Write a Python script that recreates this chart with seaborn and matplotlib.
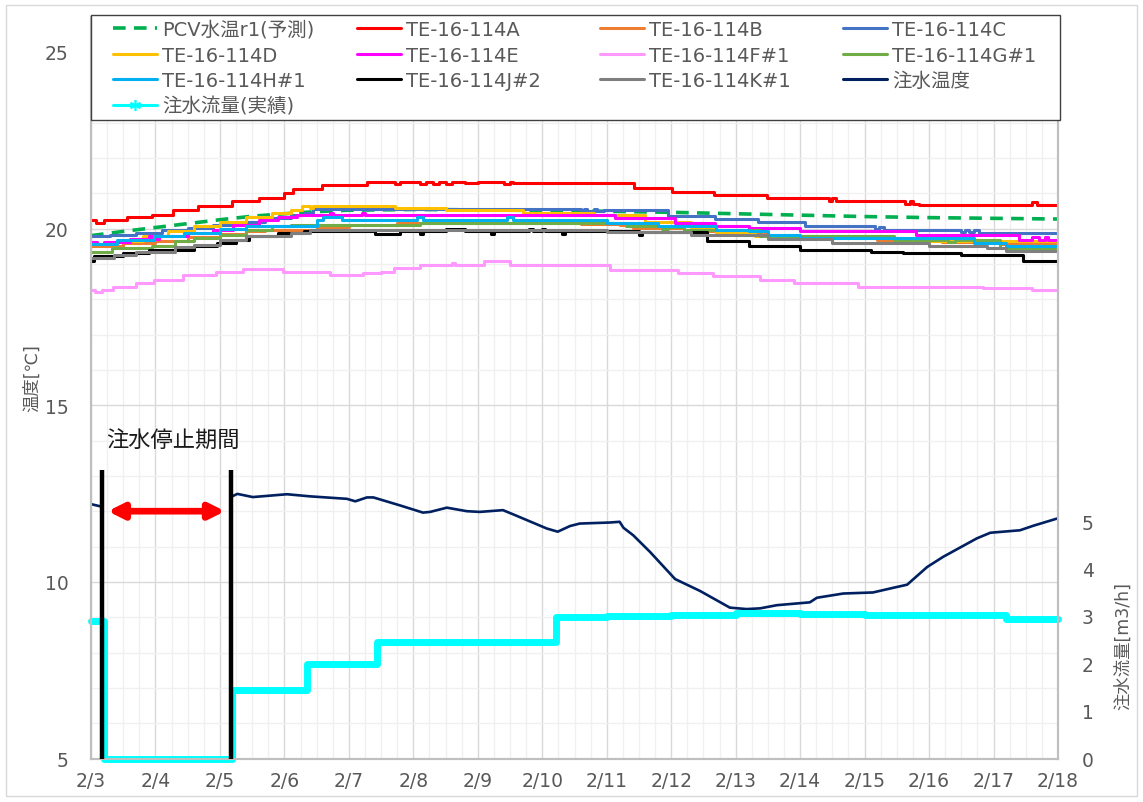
import numpy as np
import pandas as pd
import matplotlib
matplotlib.use("Agg")
import matplotlib.pyplot as plt
import seaborn as sns
from matplotlib.lines import Line2D
from matplotlib.patches import Rectangle
from matplotlib.ticker import MultipleLocator

# ---- data (x = day of February) ----
X_DAYS = list(range(3, 19))
X_LABELS = ["2/3", "2/4", "2/5", "2/6", "2/7", "2/8", "2/9", "2/10",
            "2/11", "2/12", "2/13", "2/14", "2/15", "2/16", "2/17", "2/18"]
Y_TICKS = [5, 10, 15, 20, 25]
Q_TICKS = [0, 1, 2, 3, 4, 5]

PCV_DAY = [3.0, 3.5, 4.0, 4.5, 5.0, 5.5, 6.0, 6.5, 7.0, 8.0, 9.0, 10.0, 11.0,
           12.0, 13.0, 14.0, 15.0, 16.0, 17.0, 18.0]
PCV_T = [19.80, 19.92, 20.03, 20.14, 20.25, 20.35, 20.42, 20.48, 20.52, 20.54,
         20.53, 20.51, 20.49, 20.46, 20.42, 20.38, 20.34, 20.31, 20.29, 20.27]

A_DAY = [3.0, 3.08, 3.2, 3.56, 3.95, 4.27, 4.66, 5.19, 5.6, 6.0, 6.13, 6.58, 7.28,
         7.72, 7.8, 8.1, 8.2, 8.3, 8.4, 8.5, 8.6, 8.8, 9.0, 9.4, 9.5, 9.55, 11.42,
         12.02, 12.67, 13.49, 14.45, 14.5, 14.55, 15.63, 15.7, 15.75, 15.85, 17.6,
         17.68, 18.0]
A_T = [20.25, 20.16, 20.25, 20.33, 20.39, 20.53, 20.65, 20.77, 20.86, 21.0, 21.13,
       21.24, 21.33, 21.26, 21.33, 21.26, 21.33, 21.26, 21.33, 21.26, 21.33, 21.29,
       21.33, 21.26, 21.33, 21.29, 21.15, 21.04, 20.96, 20.86, 20.79, 20.86, 20.77,
       20.7, 20.77, 20.7, 20.66, 20.74, 20.66, 20.66]

B_DAY = [3.0, 3.5, 4.0, 4.5, 5.0, 5.4, 5.7, 6.5, 7.0, 7.75, 10.6, 11.2, 11.4,
         12.2, 12.9, 13.5, 14.3, 15.2, 16.2, 17.1, 18.0]
B_T = [19.52, 19.58, 19.66, 19.75, 19.84, 19.92, 19.97, 20.05, 20.1, 20.15, 20.12,
       20.1, 20.02, 19.92, 19.84, 19.78, 19.73, 19.68, 19.62, 19.55, 19.55]

C_DAY = [3.0, 3.3, 3.7, 4.1, 4.5, 4.9, 5.3, 5.7, 6.1, 6.3, 6.45, 10.6, 10.65, 10.7,
         10.8, 10.85, 10.95, 11.95, 12.68, 13.35, 14.08, 15.16, 15.22, 15.3, 16.5,
         16.55, 16.62, 16.7, 16.78, 18.0]
C_T = [19.78, 19.83, 19.88, 19.95, 20.01, 20.1, 20.2, 20.3, 20.39, 20.45, 20.54,
       20.49, 20.56, 20.49, 20.56, 20.49, 20.52, 20.35, 20.27, 20.2, 20.06, 19.98,
       20.04, 19.97, 19.9, 19.95, 19.9, 19.95, 19.87, 19.87]

D_DAY = [3.0, 3.4, 3.8, 4.2, 4.6, 5.0, 5.4, 5.8, 6.1, 6.27, 6.4, 6.45, 7.72, 8.5,
         9.7, 10.8, 11.6, 12.3, 12.7, 13.3, 14.3, 15.6, 18.0]
D_T = [19.56, 19.65, 19.78, 19.92, 20.06, 20.2, 20.32, 20.44, 20.53, 20.65, 20.58,
       20.65, 20.58, 20.52, 20.45, 20.38, 20.2, 20.0, 19.87, 19.78, 19.73, 19.66,
       19.66]

E_DAY = [3.0, 3.1, 3.2, 3.6, 3.9, 3.95, 4.05, 4.1, 4.5, 4.9, 5.2, 5.6, 5.9, 6.2,
         6.7, 6.75, 7.2, 7.25, 11.13, 12.06, 12.68, 13.2, 14.0, 15.8, 17.4, 17.6,
         17.7, 17.8, 17.85, 18.0]
E_T = [19.62, 19.55, 19.62, 19.7, 19.78, 19.7, 19.8, 19.78, 19.87, 19.97, 20.1,
       20.25, 20.32, 20.39, 20.44, 20.39, 20.44, 20.39, 20.3, 20.16, 20.06, 20.01,
       19.92, 19.83, 19.68, 19.75, 19.68, 19.75, 19.68, 19.68]

F_DAY = [3.0, 3.06, 3.17, 3.34, 3.7, 3.97, 4.42, 4.94, 5.36, 5.98, 6.7, 7.22, 7.5,
         7.7, 8.1, 8.6, 8.65, 9.1, 9.5, 11.05, 12.1, 12.65, 13.38, 13.9, 14.9,
         16.84, 17.6, 18.0]
F_T = [18.27, 18.2, 18.27, 18.36, 18.46, 18.55, 18.68, 18.76, 18.85, 18.76, 18.68,
       18.74, 18.78, 18.87, 18.96, 19.02, 18.96, 19.07, 18.96, 18.84, 18.74, 18.65,
       18.55, 18.46, 18.36, 18.32, 18.25, 18.25]

G_DAY = [3.0, 3.33, 3.95, 4.3, 4.6, 5.0, 5.4, 5.8, 6.1, 8.1, 11.3, 11.85, 11.95,
         12.2, 13.38, 15.45, 16.3, 16.4, 17.1, 18.0]
G_T = [19.35, 19.45, 19.52, 19.64, 19.73, 19.82, 19.97, 20.06, 20.1, 20.15, 20.06,
       19.98, 20.04, 19.95, 19.8, 19.68, 19.62, 19.68, 19.45, 19.45]

H_DAY = [3.0, 3.4, 3.98, 4.45, 5.0, 5.4, 6.5, 6.6, 6.9, 8.05, 8.15, 9.45, 9.55,
         11.0, 11.8, 12.7, 13.2, 13.5, 14.0, 16.7, 17.2, 18.0]
H_T = [19.56, 19.68, 19.78, 19.87, 19.99, 20.06, 20.25, 20.32, 20.25, 20.32, 20.25,
       20.32, 20.25, 20.16, 20.06, 19.97, 19.92, 19.83, 19.73, 19.59, 19.52, 19.52]

J_DAY = [3.0, 3.05, 3.4, 3.5, 3.9, 4.6, 4.95, 5.25, 5.45, 5.9, 6.3, 7.4, 7.8, 8.1,
         8.15, 8.5, 8.8, 9.2, 9.25, 9.8, 9.85, 10.0, 10.05, 10.3, 10.35, 11.5, 11.55,
         12.55, 13.2, 14.0, 15.1, 15.6, 16.5, 17.45, 18.0]
J_T = [19.07, 19.21, 19.21, 19.31, 19.4, 19.5, 19.59, 19.68, 19.78, 19.87, 19.93,
       19.86, 19.93, 19.86, 19.93, 19.99, 19.93, 19.86, 19.93, 19.99, 19.93, 19.99,
       19.93, 19.86, 19.93, 19.82, 19.9, 19.64, 19.5, 19.4, 19.35, 19.31, 19.26,
       19.07, 19.07]

K_DAY = [3.0, 3.36, 3.7, 4.3, 4.6, 5.0, 5.4, 6.1, 6.4, 11.0, 12.3, 13.5, 14.5,
         16.0, 16.9, 17.2, 18.0]
K_T = [19.16, 19.26, 19.35, 19.47, 19.54, 19.68, 19.78, 19.87, 19.97, 19.9, 19.82,
       19.7, 19.6, 19.52, 19.45, 19.37, 19.37]

# inlet water temperature (gap while injection was stopped)
TIN1_DAY = [3.0, 3.14]
TIN1_T = [12.2, 12.14]
TIN2_DAY = [5.19, 5.27, 5.51, 6.04, 6.4, 6.97, 7.1, 7.28, 7.38, 7.8, 8.15, 8.26,
            8.52, 8.83, 9.03, 9.39, 9.55, 10.07, 10.24, 10.43, 10.58, 11.05, 11.2,
            11.26, 11.41, 11.67, 12.06, 12.45, 12.91, 13.17, 13.38, 13.64, 14.15,
            14.26, 14.67, 15.13, 15.44, 15.66, 15.97, 16.22, 16.74, 16.95, 17.41,
            17.62, 18.0]
TIN2_T = [12.42, 12.49, 12.4, 12.48, 12.42, 12.35, 12.28, 12.39, 12.39, 12.16,
          11.96, 11.98, 12.1, 12.0, 11.98, 12.03, 11.91, 11.51, 11.42, 11.58, 11.65,
          11.68, 11.7, 11.53, 11.32, 10.85, 10.08, 9.74, 9.27, 9.23, 9.25, 9.34,
          9.42, 9.55, 9.67, 9.7, 9.83, 9.92, 10.42, 10.71, 11.23, 11.39, 11.46,
          11.59, 11.8]

# injection flow rate [m3/h]
Q_DAY = [3.0, 3.2, 5.19, 6.35, 7.43, 10.22, 11.0, 12.0, 13.0, 14.0, 15.0, 16.0,
         17.2, 18.0]
Q_RATE = [2.9, 0.0, 1.44, 2.0, 2.45, 2.97, 3.0, 3.03, 3.06, 3.05, 3.02, 3.02,
          2.94, 2.94]

STOP_START, STOP_END = 3.17, 5.17

W, H = 1143, 803
sns.set_theme(style="white")
plt.rcParams["font.family"] = ["DejaVu Sans", "Noto Sans CJK JP"]

fig = plt.figure(figsize=(W / 100, H / 100), dpi=100)
fig.patches.append(Rectangle((6 / W, 6 / H), 1 - 12 / W, 1 - 12 / H, transform=fig.transFigure,
                             fill=False, edgecolor="#D9D9D9", lw=1))

left, right, bottom, top = 91, 1058, 759.5, 17.6
ax = fig.add_axes([left / W, 1 - bottom / H, (right - left) / W, (bottom - top) / H])
ax2 = ax.twinx()

temp_series = [
    ("TE-16-114A", A_DAY, A_T, "#FF0000"),
    ("TE-16-114B", B_DAY, B_T, "#ED7D31"),
    ("TE-16-114C", C_DAY, C_T, "#4472C4"),
    ("TE-16-114D", D_DAY, D_T, "#FFC000"),
    ("TE-16-114E", E_DAY, E_T, "#FF00FF"),
    ("TE-16-114F#1", F_DAY, F_T, "#FF99FF"),
    ("TE-16-114G#1", G_DAY, G_T, "#70AD47"),
    ("TE-16-114H#1", H_DAY, H_T, "#00B0F0"),
    ("TE-16-114J#2", J_DAY, J_T, "#000000"),
    ("TE-16-114K#1", K_DAY, K_T, "#7F7F7F"),
]

PCV_STYLE = dict(color="#00B050", lw=2.6, linestyle=(0, (3.5, 2.3)))
TIN_STYLE = dict(color="#002060", lw=1.9)
Q_COLOR = "#00FFFF"


def draw(axis, days, vals, **kw):
    df = pd.DataFrame({"day": days, "val": vals})
    sns.lineplot(data=df, x="day", y="val", ax=axis, estimator=None,
                 legend=False, **kw)


draw(ax, PCV_DAY, PCV_T, **PCV_STYLE)
for name, d, v, c in temp_series:
    draw(ax, d, v, color=c, lw=2.2, drawstyle="steps-post")
draw(ax, TIN1_DAY, TIN1_T, **TIN_STYLE)
draw(ax, TIN2_DAY, TIN2_T, **TIN_STYLE)
draw(ax2, Q_DAY, Q_RATE, color=Q_COLOR, lw=5, drawstyle="steps-post", clip_on=False)

# axes styling
ax.set_xlim(3, 18)
ax.set_ylim(5, 26)
ax2.set_ylim(0, (bottom - top) / 47.5)
ax.set_xticks(X_DAYS)
ax.set_xticklabels(X_LABELS)
ax.xaxis.set_minor_locator(MultipleLocator(0.25))
ax.set_yticks(Y_TICKS)
ax.yaxis.set_minor_locator(MultipleLocator(1))
ax2.set_yticks(Q_TICKS)
ax.grid(which="minor", color="#F0F0F0", lw=1)
ax.grid(which="major", color="#D9D9D9", lw=1)
ax.set_axisbelow(True)
ax2.grid(False)
ax.set_xlabel("")
ax.set_ylabel("")
ax2.set_ylabel("")
ax.tick_params(axis="x", which="both", length=0, pad=9, labelsize=13.5, labelcolor="#595959")
ax.tick_params(axis="y", which="both", length=0, pad=16, labelsize=13.5, labelcolor="#595959")
ax2.tick_params(axis="y", which="both", length=0, pad=17, labelsize=13.5, labelcolor="#595959")
for a in (ax, ax2):
    for s in a.spines.values():
        s.set_color("#BFBFBF")
        s.set_linewidth(1.5)
    a.spines["top"].set_visible(False)

fig.text(32 / W, 1 - 378 / H, "温度[℃]", rotation=90, ha="center", va="center",
         fontsize=12.5, color="#595959")
fig.text(1123 / W, 1 - 646 / H, "注水流量[m3/h]", rotation=90, ha="center", va="center",
         fontsize=12.5, color="#595959")

# injection stop period annotation
for xd in (STOP_START, STOP_END):
    ax2.plot([xd, xd], [5, 13.16], transform=ax.transData, color="black", lw=3.2,
             solid_capstyle="butt", clip_on=False, zorder=5)
ax2.annotate("", xy=(5.08, 12.0), xytext=(3.26, 12.0), xycoords=ax.transData,
             textcoords=ax.transData,
             arrowprops=dict(arrowstyle="<|-|>,head_length=0.9,head_width=0.45",
                             color="#FF0000", lw=4.8, mutation_scale=10,
                             shrinkA=0, shrinkB=0))
ax2.text(3.23, 14.0, "注水停止期間", transform=ax.transData, ha="left", va="center",
         fontsize=16, color="#1A1A1A")

# legend: frame + four columns
fig.patches.append(Rectangle((91 / W, 1 - 121 / H), 969 / W, 105.3 / H,
                             transform=fig.transFigure, fill=False,
                             edgecolor="#404040", lw=1, zorder=5))
fig.patches.append(Rectangle((91 / W, 1 - 121 / H), 969 / W, 105.3 / H,
                             transform=fig.transFigure, fill=True,
                             facecolor="white", edgecolor="none", zorder=4))


def h(**kw):
    return Line2D([], [], **kw)


cols = [
    [("PCV水温r1(予測)", h(**PCV_STYLE)),
     ("TE-16-114D", h(color="#FFC000", lw=2.2)),
     ("TE-16-114H#1", h(color="#00B0F0", lw=2.2)),
     ("注水流量(実績)", h(color=Q_COLOR, lw=2.2, marker=(6, 2, 0), markersize=8,
                      markeredgecolor=Q_COLOR, markeredgewidth=1.2))],
    [("TE-16-114A", h(color="#FF0000", lw=2.2)),
     ("TE-16-114E", h(color="#FF00FF", lw=2.2)),
     ("TE-16-114J#2", h(color="#000000", lw=2.2))],
    [("TE-16-114B", h(color="#ED7D31", lw=2.2)),
     ("TE-16-114F#1", h(color="#FF99FF", lw=2.2)),
     ("TE-16-114K#1", h(color="#7F7F7F", lw=2.2))],
    [("TE-16-114C", h(color="#4472C4", lw=2.2)),
     ("TE-16-114G#1", h(color="#70AD47", lw=2.2)),
     ("注水温度", h(color="#002060", lw=2.2))],
]
col_x = [113, 357, 600, 843]
for cx, entries in zip(col_x, cols):
    leg = fig.legend([e[1] for e in entries], [e[0] for e in entries],
                     loc="upper left", bbox_to_anchor=(cx / W, 1 - 21 / H),
                     frameon=False, fontsize=14, handlelength=2.27,
                     handletextpad=0.25, labelspacing=0.34, borderpad=0,
                     borderaxespad=0, labelcolor="#595959")
    leg.set_zorder(6)

fig.savefig("out.png", dpi=100)
